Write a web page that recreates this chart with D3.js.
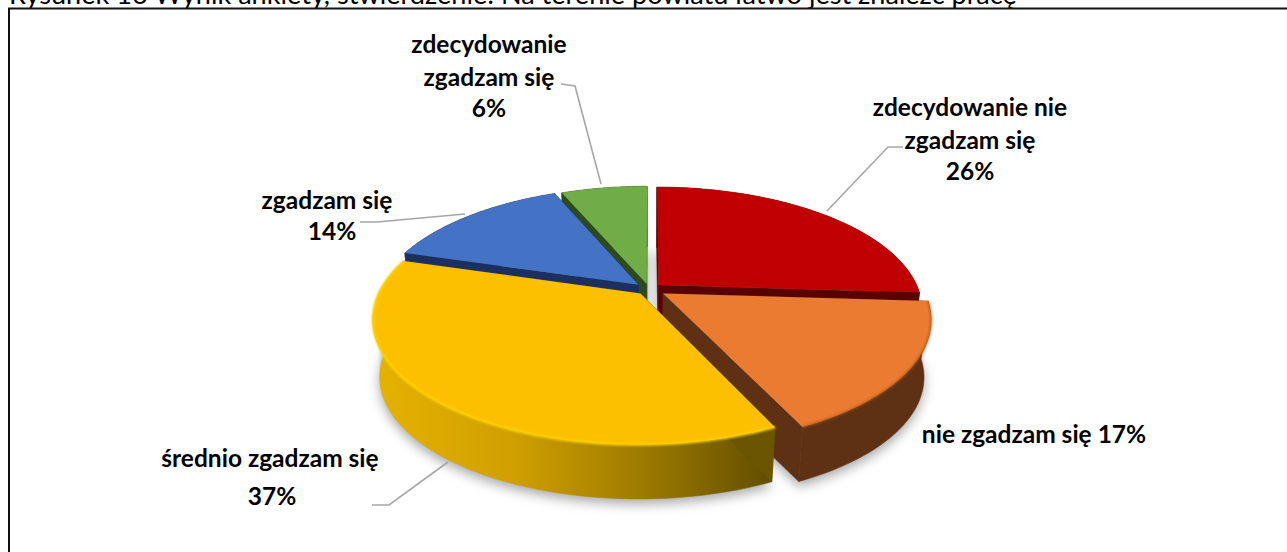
<!DOCTYPE html>
<html>
<head>
<meta charset="utf-8">
<script src="https://cdn.jsdelivr.net/npm/d3@7"></script>
<style>
body { margin: 0; background: #fff; overflow: hidden; }
text { font-family: Lato, sans-serif; fill: #000; }
</style>
</head>
<body>
<svg></svg>
<script>
const titleText = "Rysunek 16 Wynik ankiety, stwierdzenie: Na terenie powiatu łatwo jest znaleźć pracę";
const categories = ["zdecydowanie nie zgadzam się", "nie zgadzam się", "średnio zgadzam się", "zgadzam się", "zdecydowanie zgadzam się"];
const values = [26, 17, 36.6, 14, 6.4];
const explode = [0.05, 0.065, 0.05, 0.055, 0.045];

const topColors = ["#c00000", "#ea7b30", "#fdc000", "#4472c4", "#70ad47"];
const wallColors = ["#5a0000", "#5f3114", "#6b5500", "#1c3060", "#2c4a1a"];
const paintOrder = [4, 0, 3, 1, 2];

const svgWidth = 1287;
const svgHeight = 552;
const svg = d3.select("svg")
    .attr("width", svgWidth)
    .attr("height", svgHeight)
    .style("display", "block");

const defs = svg.append("defs");
defs.append("filter").attr("id", "shadowBlur")
    .attr("x", "-10%").attr("y", "-10%").attr("width", "120%").attr("height", "120%")
    .append("feGaussianBlur").attr("stdDeviation", 6);
defs.append("filter").attr("id", "edgeBlur")
    .attr("x", "-5%").attr("y", "-5%").attr("width", "110%").attr("height", "110%")
    .append("feGaussianBlur").attr("stdDeviation", 0.9);

const yellowWall = defs.append("linearGradient").attr("id", "yellowWall")
    .attr("gradientUnits", "userSpaceOnUse")
    .attr("x1", 375).attr("x2", 777).attr("y1", 0).attr("y2", 0);
[[0, "#e6b200"], [0.35, "#cf9f00"], [0.65, "#a07c00"], [1, "#5f4c00"]].forEach(s => {
    yellowWall.append("stop").attr("offset", s[0]).attr("stop-color", s[1]);
});

svg.append("text")
    .attr("x", 9).attr("y", 3.5)
    .attr("font-size", 27.1)
    .text(titleText);

// frame round the chart, open on the right
svg.append("path")
    .attr("d", "M1287,8.5H9V552")
    .attr("fill", "none")
    .attr("stroke", "#111")
    .attr("stroke-width", 2);

// projection of the tilted disc: u to the right, v towards the viewer
const cx = 649;
const cy = 289;
const rx = 260;
const ry = 119;
const persp = 0.2;
const depth = 58;
const bottomScale = 0.975;

function project(u, v, low) {
    const w = 1 - persp * v;
    const s = low ? bottomScale : 1;
    return [cx + s * rx * u / w, cy + s * ry * v / w + (low ? depth : 0)];
}

const pie = d3.pie().sort(null).value(d => d);
const arcs = pie(values);
const line = d3.line();

function slicePoints(a, i, low) {
    const mid = (a.startAngle + a.endAngle) / 2;
    const ou = explode[i] * Math.sin(mid);
    const ov = -explode[i] * Math.cos(mid);
    const angles = d3.range(0, 61).map(k => a.startAngle + (a.endAngle - a.startAngle) * k / 60);
    const rim = angles.map(t => project(ou + Math.sin(t), ov - Math.cos(t), low));
    return { apex: project(ou, ov, low), rim: rim };
}

// pale shadow that shows in the gaps between slices
const backShadow = svg.append("g").attr("filter", "url(#edgeBlur)");
arcs.forEach((a, i) => {
    const low = slicePoints(a, i, true);
    backShadow.append("path")
        .attr("d", line([low.apex].concat(low.rim)) + "Z")
        .attr("transform", "translate(0,-20)")
        .attr("fill", "#e4e4e4");
});

// soft shadow under the pie
const shadow = svg.append("g").attr("filter", "url(#shadowBlur)");
arcs.forEach((a, i) => {
    const low = slicePoints(a, i, true);
    shadow.append("path")
        .attr("d", line([low.apex].concat(low.rim)) + "Z")
        .attr("transform", "translate(0,5)")
        .attr("fill", "#a8a8a8");
});

const pieG = svg.append("g");
paintOrder.forEach(i => {
    const a = arcs[i];
    const top = slicePoints(a, i, false);
    const low = slicePoints(a, i, true);
    const fill = i === 2 ? "url(#yellowWall)" : wallColors[i];
    const g = pieG.append("g");

    // outer wall
    g.append("path")
        .attr("d", line(top.rim.concat(low.rim.slice().reverse())) + "Z")
        .attr("fill", fill).attr("stroke", fill).attr("stroke-width", 0.5);
    // the two cut faces
    const n = top.rim.length - 1;
    [0, n].forEach(k => {
        g.append("path")
            .attr("d", line([top.apex, top.rim[k], low.rim[k], low.apex]) + "Z")
            .attr("fill", wallColors[i]).attr("stroke", wallColors[i]).attr("stroke-width", 0.5);
    });
    // top face
    g.append("path")
        .attr("d", line([top.apex].concat(top.rim)) + "Z")
        .attr("fill", topColors[i]);
    // soft edge where the front of the face meets the wall
    if (i === 1) {
        g.append("path")
            .attr("d", line(top.rim))
            .attr("fill", "none")
            .attr("stroke", "#a9591f")
            .attr("stroke-width", 1.5)
            .attr("filter", "url(#edgeBlur)");
    }
});

// lighter edge on the front of the yellow slice
const yellowTop = slicePoints(arcs[2], 2, false);
pieG.append("path")
    .attr("d", line(yellowTop.rim))
    .attr("fill", "none")
    .attr("stroke", "#ffd800")
    .attr("stroke-width", 2)
    .attr("filter", "url(#edgeBlur)");

// leader lines
const leaders = [
    [[827, 211], [888, 147], [903, 147]],
    [[465, 214], [377, 222], [360, 222]],
    [[601, 184], [575, 86], [561, 84]],
    [[448, 462], [389, 505], [372, 505]]
];
svg.append("g").selectAll("path")
    .data(leaders)
    .enter().append("path")
    .attr("d", d => line(d))
    .attr("fill", "none")
    .attr("stroke", "#a6a6a6")
    .attr("stroke-width", 1.6);

const pct = i => Math.round(values[i]) + "%";

// labels, one row per line
const labelRows = [
    { x: 970, y: 116, text: "zdecydowanie nie" },
    { x: 970, y: 149, text: "zgadzam się" },
    { x: 970, y: 180, text: pct(0) },
    { x: 1034, y: 443, text: categories[1] + " " + pct(1) },
    { x: 270, y: 467, text: categories[2] },
    { x: 272, y: 505, text: pct(2) },
    { x: 327, y: 209, text: categories[3] },
    { x: 332, y: 240, text: pct(3) },
    { x: 489, y: 53, text: "zdecydowanie" },
    { x: 489, y: 86, text: "zgadzam się" },
    { x: 489, y: 117, text: pct(4) }
];
svg.append("g").selectAll("text")
    .data(labelRows)
    .enter().append("text")
    .attr("x", d => d.x)
    .attr("y", d => d.y)
    .attr("text-anchor", "middle")
    .attr("font-size", 24.5)
    .attr("font-weight", "bold")
    .text(d => d.text);
</script>
</body>
</html>
